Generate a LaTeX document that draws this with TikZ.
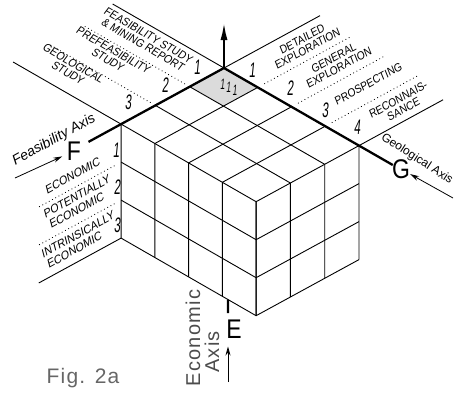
\documentclass[tikz,border=0pt]{standalone}
\usepackage{fontspec}
\setmainfont{Liberation Sans}
\newfontfamily\handfont[FakeStretch=0.9,FakeSlant=0.12]{Liberation Sans}
\newfontfamily\handitfont[FakeStretch=0.97,FakeSlant=0.25]{Liberation Sans}
\newfontfamily\numfont[FakeStretch=0.55,FakeSlant=0.1]{Liberation Sans}
\newfontfamily\letterfont[FakeStretch=0.85]{Liberation Sans}
\newfontfamily\spacedfont[LetterSpace=6]{Liberation Sans}
\usetikzlibrary{arrows.meta,calc}
\tikzset{stage/.style={font=\handfont\fontsize{11.5}{11}\selectfont,align=center,inner sep=0pt},
  grade/.style={font=\handitfont\fontsize{11.5}{12}\selectfont,align=left,inner sep=0pt,rotate=29},
  digit/.style={font=\numfont\fontsize{21}{21}\selectfont,inner sep=0pt},
  axletter/.style={font=\letterfont\fontsize{27}{27}\selectfont,inner sep=0pt},
  axisline/.style={line width=2.3pt},
  gridline/.style={line width=0.9pt},
  dotline/.style={line width=1.1pt,dash pattern=on 0.1pt off 3.6pt,line cap=round}}

\begin{document}
\begin{tikzpicture}[x=1pt,y=-1pt,>={Stealth[length=9pt,width=5pt]},line join=round]
\useasboundingbox (0,0) rectangle (456,392);
% --- cube: F to the left, G to the right, E downwards
\begin{scope}[shift={(224,68)},x={(-34.3pt,-18.7pt)},y={(33.75pt,-19.4pt)},z={(0pt,-38pt)}]
\coordinate (O) at (0,0,0); \coordinate (Fend) at (3.95,0,0); \coordinate (Gend) at (0,5,0); \coordinate (Ebot) at (3,3.17,3);
\fill[gray!28] (0,0,0) -- (1,0,0) -- (1,1,0) -- (0,1,0) -- cycle; % cell 111
\foreach \i in {0,...,3} \draw[gridline] (\i,0,0) -- (\i,4,0) (\i,4,0) -- (\i,4,3);
\foreach \j in {0,...,4} \draw[gridline] (0,\j,0) -- (3,\j,0) (3,\j,0) -- (3,\j,3);
\foreach \k in {1,2,3} \draw[gridline] (3,0,\k) -- (3,4,\k) -- (0,4,\k);
% --- guide lines of the three label fields
\draw[gridline] (0,0,0) -- (0,-3.3,0) (3,0,0) -- (3,-3.2,0);
\foreach \i in {1,2} \draw[dotline] (\i,-0.15,0) -- (\i,-3.1,0);
\draw[gridline] (0,0,0) -- (-2.8,0,0) (0,4,0) -- (-2.45,4,0);
\foreach \j in {1,2,3} \draw[dotline] (-0.2,\j,0) -- (-2.7,\j,0);
\draw[gridline] (3,0,3) -- (5.4,0,3);
\foreach \k in {1,2} \draw[dotline] (3.2,0,\k) -- (5.4,0,\k);
\end{scope}
% --- axes
\coordinate (Etop) at (224,22); \coordinate (Elow) at (228,313); \coordinate (Etail) at (228,382);
\coordinate (Ftail) at (15,178); \coordinate (Gtail) at (453,198);
\draw[axisline] (Fend) -- (O) -- (Gend);
\draw[axisline,-{Latex[length=18pt,width=7pt]}] (O) -- (Etop);
\draw[axisline] (Ebot) -- (Elow);
\node[axletter] (F) at (74,151) {F};
\node[axletter] (G) at (401,169) {G};
\node[axletter] (E) at (234,329) {E};
\draw[->,thick,shorten >=5pt] (Ftail) -- (F);
\draw[->,thick] (Gtail) -- (G);
\draw[->,thick,shorten >=8pt] (Etail) -- (Etail |- E.south);
\node[font=\itshape\fontsize{14}{14}\selectfont,rotate=29,inner sep=0pt] (fax) at (54,140) {Feasibility Axis};
\node[font=\fontsize{12}{13}\selectfont,rotate=-33,inner sep=0pt] (gax) at (417,159) {Geological Axis};
\node[font=\spacedfont\fontsize{20}{20}\selectfont,rotate=90,inner sep=0pt,black!70] (eax1) at (193,338) {Economic};
\node[font=\spacedfont\fontsize{20}{20}\selectfont,rotate=90,inner sep=0pt,black!70] (eax2) at (212,352) {Axis};
% --- feasibility classes
\node[stage,rotate=-30] (fs) at (145.5,40) {FEASIBILITY STUDY\\\& MINING REPORT};
\node[stage,rotate=-30] (pfs) at (110.5,55) {PREFEASIBILITY\\STUDY};
\node[stage,rotate=-30] (gst) at (70.5,68) {GEOLOGICAL\\STUDY};
\foreach \t/\x/\y in {1/197/67,2/165/85,3/128/102} \node[digit] (fn\t) at (\x,\y) {\t};
% --- geological classes
\node[stage,rotate=29] (dex) at (304.5,44) {DETAILED\\EXPLORATION};
\node[stage,rotate=29] (gex) at (336,63) {GENERAL\\EXPLORATION};
\node[stage,rotate=29] (pro) at (368,84) {PROSPECTING};
\node[stage,rotate=29] (rec) at (400.5,104.5) {RECONNAIS-\\SANCE};
\foreach \t/\x/\y in {1/252/70,2/290/88,3/325/110,4/357/127} \node[digit] (gn\t) at (\x,\y) {\t};
% --- economic classes
\node[grade] (eco) at (72,176) {ECONOMIC};
\node[grade] (pec) at (79,202) {POTENTIALLY\\ECONOMIC};
\node[grade] (iec) at (80,240) {INTRINSICALLY\\ECONOMIC};
\foreach \t/\x/\y in {1/116/150,2/117/187,3/117/225} \node[digit] (en\t) at (\x,\y) {\t};
\node[font=\numfont\fontsize{15}{15}\selectfont,inner sep=0pt] (c111) at (228.5,87.5) {1\kern1.5pt\raisebox{-3pt}{1}\kern1.5pt\raisebox{-6pt}{1}};
\node[font=\spacedfont\fontsize{21}{21}\selectfont,inner sep=0pt,black!60] (fig) at (83,378) {Fig. 2a};
\end{tikzpicture}
\end{document}
